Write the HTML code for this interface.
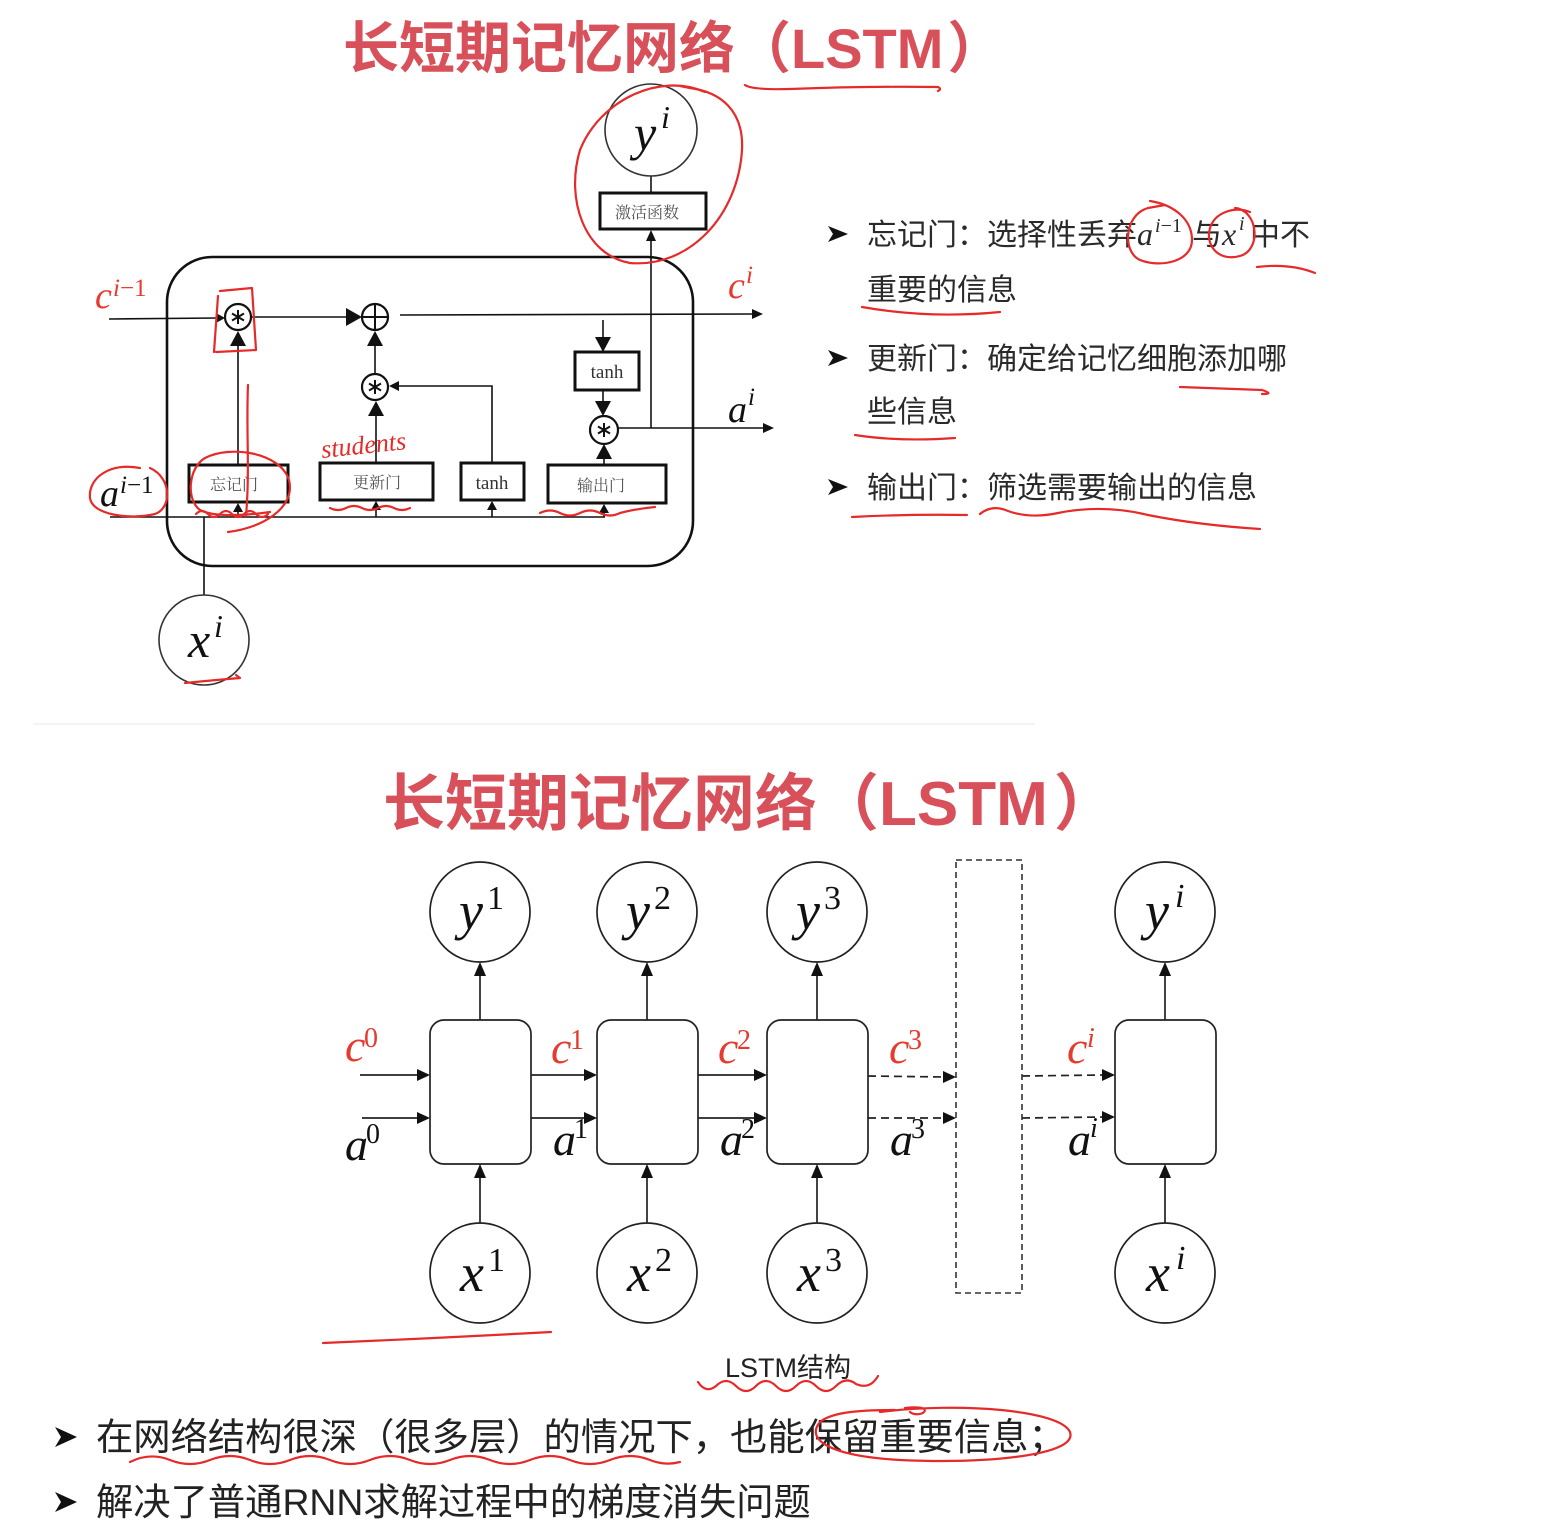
<!DOCTYPE html>
<html><head><meta charset="utf-8"><style>
html,body{margin:0;padding:0;background:#fff;}
svg{display:block;}
.cjk{font-family:"Liberation Sans","Noto Sans CJK SC",sans-serif;}
.m{font-family:"Liberation Serif",serif;font-style:italic;}
.s{font-family:"Liberation Serif",serif;}
.box{font-family:"Liberation Serif","Noto Serif CJK SC",serif;fill:#555;}
.red{stroke:#e62a2a;stroke-width:2.2;fill:none;stroke-linecap:round;stroke-linejoin:round;}
.ln{stroke:#111;stroke-width:1.6;fill:none;}
.th{stroke:#111;stroke-width:3;fill:#fff;}
</style></head><body>
<svg width="1552" height="1538" viewBox="0 0 1552 1538" xmlns="http://www.w3.org/2000/svg">
<rect width="1552" height="1538" fill="#fff"/>

<!-- ===== Top title ===== -->
<text x="343" y="68" class="cjk" font-size="56" font-weight="bold" fill="#d8505a">长短期记忆网络（LSTM<tspan dx="4">）</tspan></text>
<path class="red" d="M745 85 Q752 90 790 89 Q870 86 938 87 Q942 89 938 91"/>

<!-- ===== Top LSTM cell ===== -->
<rect x="167" y="257" width="526" height="309" rx="45" fill="none" stroke="#111" stroke-width="2.6"/>

<line class="ln" x1="109" y1="319" x2="218" y2="318"/>
<polygon points="225,318 216,313 216,323" fill="#111"/>
<circle cx="238" cy="317" r="13" fill="#fff" stroke="#111" stroke-width="2.2"/>
<path d="M238 310 L238 324 M232 313.5 L244 320.5 M232 320.5 L244 313.5" stroke="#111" stroke-width="2"/>
<line class="ln" x1="252" y1="317" x2="348" y2="317" stroke-width="2"/>
<polygon points="362,317 346,308 346,326" fill="#111"/>
<circle cx="375" cy="317" r="13" fill="#fff" stroke="#111" stroke-width="2.2"/>
<path d="M362 317 L388 317 M375 304 L375 330" stroke="#111" stroke-width="2"/>
<line class="ln" x1="400" y1="315" x2="755" y2="314"/>
<polygon points="763,314 752,309 752,319" fill="#111"/>

<line class="ln" x1="238" y1="465" x2="238" y2="340" stroke-width="2"/>
<polygon points="238,331 230,346 246,346" fill="#111"/>
<circle cx="375" cy="387" r="13" fill="#fff" stroke="#111" stroke-width="2.2"/>
<path d="M375 380 L375 394 M369 383.5 L381 390.5 M369 390.5 L381 383.5" stroke="#111" stroke-width="2"/>
<line class="ln" x1="375" y1="374" x2="375" y2="345" stroke-width="2"/>
<polygon points="375,331 367,346 383,346" fill="#111"/>
<line class="ln" x1="376" y1="463" x2="376" y2="412" stroke-width="2"/>
<polygon points="376,401 368,416 384,416" fill="#111"/>
<polyline class="ln" points="492,463 492,386 397,386"/>
<polygon points="389,386 399,381 399,391" fill="#111"/>

<line class="ln" x1="603" y1="320" x2="603" y2="340" stroke-width="2"/>
<polygon points="603,352 595,337 611,337" fill="#111"/>
<rect class="th" x="575" y="352" width="64" height="38"/>
<text x="607" y="378" class="s" font-size="19" fill="#333" text-anchor="middle">tanh</text>
<line class="ln" x1="603" y1="390" x2="603" y2="405" stroke-width="2"/>
<polygon points="603,416 595,401 611,401" fill="#111"/>
<circle cx="604" cy="430" r="14" fill="#fff" stroke="#111" stroke-width="2.2"/>
<path d="M604 423 L604 437 M598 426.5 L610 433.5 M598 433.5 L610 426.5" stroke="#111" stroke-width="2"/>
<line class="ln" x1="604" y1="465" x2="604" y2="455" stroke-width="2"/>
<polygon points="604,444 596,459 612,459" fill="#111"/>
<line class="ln" x1="618" y1="428" x2="765" y2="428"/>
<polygon points="774,428 763,423 763,433" fill="#111"/>
<line class="ln" x1="651" y1="428" x2="651" y2="238"/>
<polygon points="651,230 646,241 656,241" fill="#111"/>
<rect class="th" x="600" y="193" width="106" height="36"/>
<text x="647" y="218" class="box" font-size="16" text-anchor="middle">激活函数</text>
<line class="ln" x1="651" y1="193" x2="651" y2="176" stroke="#333"/>
<circle cx="651" cy="130" r="46" fill="#fff" stroke="#333" stroke-width="1.6"/>
<text x="634" y="150" class="m" font-size="50" fill="#111">y</text>
<text x="661" y="128" class="m" font-size="32" fill="#111">i</text>

<rect class="th" x="189" y="465" width="99" height="37"/>
<text x="234" y="490" class="box" font-size="16" text-anchor="middle">忘记门</text>
<rect class="th" x="320" y="463" width="113" height="37"/>
<text x="377" y="488" class="box" font-size="16" text-anchor="middle">更新门</text>
<rect class="th" x="461" y="463" width="63" height="37"/>
<text x="492" y="489" class="s" font-size="19" fill="#333" text-anchor="middle">tanh</text>
<rect class="th" x="548" y="465" width="118" height="38"/>
<text x="601" y="491" class="box" font-size="16" text-anchor="middle">输出门</text>

<line class="ln" x1="110" y1="517" x2="605" y2="517"/>
<line class="ln" x1="238" y1="517" x2="238" y2="510"/><polygon points="238,503 233,512 243,512" fill="#111"/>
<line class="ln" x1="376" y1="517" x2="376" y2="508"/><polygon points="376,501 371,510 381,510" fill="#111"/>
<line class="ln" x1="492" y1="517" x2="492" y2="508"/><polygon points="492,501 487,510 497,510" fill="#111"/>
<line class="ln" x1="604" y1="517" x2="604" y2="510"/><polygon points="604,504 599,513 609,513" fill="#111"/>
<line class="ln" x1="204" y1="517" x2="204" y2="595"/>
<circle cx="204" cy="640" r="45" fill="#fff" stroke="#333" stroke-width="1.6"/>
<text x="188" y="657" class="m" font-size="50" fill="#111">x</text>
<text x="214" y="637" class="m" font-size="32" fill="#111">i</text>

<text x="95" y="308" class="m" font-size="38" fill="#e63a2e">c</text>
<text x="113" y="296" class="s" font-size="25" fill="#e63a2e"><tspan font-style="italic">i</tspan>−1</text>
<text x="100" y="506" class="m" font-size="38" fill="#111">a</text>
<text x="120" y="493" class="s" font-size="25" fill="#111"><tspan font-style="italic">i</tspan>−1</text>
<text x="728" y="298" class="m" font-size="38" fill="#e63a2e">c</text>
<text x="746" y="283" class="m" font-size="25" fill="#e63a2e">i</text>
<text x="728" y="422" class="m" font-size="38" fill="#111">a</text>
<text x="748" y="405" class="m" font-size="25" fill="#111">i</text>

<path class="red" d="M705 92 C660 72 600 100 580 150 C565 200 585 255 630 263 C690 268 738 215 742 150 C744 110 720 92 690 88 L680 86"/>
<path class="red" d="M218 296 L214 352 M220 291 L252 288 L256 350 L216 352"/>
<path class="red" d="M248 385 C246 430 250 470 246 516"/>
<path class="red" d="M140 468 C110 462 88 478 90 498 C92 515 130 520 155 514 C172 508 172 478 150 468"/>
<path class="red" d="M205 458 C230 445 280 452 289 480 C296 508 262 528 228 532 M205 458 C188 468 186 500 200 510 C215 518 250 515 270 512"/>
<text x="322" y="458" class="m" font-size="26" fill="#e62a2a" transform="rotate(-6 322 458)">students</text>
<path class="red" d="M196 514 q6 -6 12 0 t12 0 t12 0 t12 0 t12 0 t12 0"/>
<path class="red" d="M330 508 q8 4 16 0 t16 0 t16 0 t16 0 t16 0"/>
<path class="red" d="M540 513 q10 -5 20 0 t20 0 t20 0 t20 0 q15 -4 35 -6"/>
<path class="red" d="M185 683 Q215 680 240 678 L236 675"/>

<!-- ===== right bullet list ===== -->
<g fill="#111">
<polygon points="828,226 848,234 828,242 833,234"/>
<polygon points="828,350 848,358 828,366 833,358"/>
<polygon points="828,479 848,487 828,495 833,487"/>
</g>
<g class="cjk" font-size="30" fill="#2a2a2a">
<text x="867" y="245">忘记门：选择性丢弃</text>
<text x="1192" y="245">与</text>
<text x="1250" y="245">中不</text>
<text x="867" y="300">重要的信息</text>
<text x="867" y="369">更新门：确定给记忆细胞添加哪</text>
<text x="867" y="422">些信息</text>
<text x="867" y="498">输出门：筛选需要输出的信息</text>
</g>
<text x="1137" y="245" class="m" font-size="32" fill="#2a2a2a">a</text>
<text x="1155" y="232" class="s" font-size="20" fill="#2a2a2a"><tspan font-style="italic">i</tspan>−1</text>
<text x="1222" y="245" class="m" font-size="32" fill="#2a2a2a">x</text>
<text x="1239" y="230" class="m" font-size="20" fill="#2a2a2a">i</text>
<path class="red" d="M1150 201 C1175 205 1192 220 1192 240 C1192 262 1160 268 1140 260 C1122 252 1124 215 1148 208 L1165 205"/>
<path class="red" d="M1235 208 C1258 210 1262 250 1240 256 C1218 262 1205 245 1210 228 C1215 212 1235 206 1250 212"/>
<path class="red" d="M1257 267 Q1290 263 1315 273"/>
<path class="red" d="M862 307 Q930 319 1000 312"/>
<path class="red" d="M1180 387 L1262 390 Q1275 394 1262 394"/>
<path class="red" d="M855 435 Q900 442 955 438"/>
<path class="red" d="M852 517 Q910 514 967 515"/>
<path class="red" d="M980 514 q12 -10 28 -3 q22 8 50 2 q45 -9 90 2 q50 10 112 14"/>

<line x1="33" y1="724" x2="1035" y2="724" stroke="#e8e8e8" stroke-width="1"/>

<!-- ===== Bottom title ===== -->
<text x="383" y="825" class="cjk" font-size="62" font-weight="bold" fill="#d8505a">长短期记忆网络（LSTM<tspan dx="6">）</tspan></text>

<!-- ===== Bottom diagram ===== -->
<g stroke="#222" stroke-width="1.7" fill="#fff">
<circle cx="480" cy="912" r="50"/><circle cx="647" cy="912" r="50"/><circle cx="817" cy="912" r="50"/><circle cx="1165" cy="912" r="50"/>
<circle cx="480" cy="1273" r="50"/><circle cx="647" cy="1273" r="50"/><circle cx="817" cy="1273" r="50"/><circle cx="1165" cy="1273" r="50"/>
<rect x="430" y="1020" width="101" height="144" rx="14"/>
<rect x="597" y="1020" width="101" height="144" rx="14"/>
<rect x="767" y="1020" width="101" height="144" rx="14"/>
<rect x="1115" y="1020" width="101" height="144" rx="14"/>
</g>
<g stroke="#222" stroke-width="1.7">
<line x1="480" y1="1020" x2="480" y2="975"/><line x1="647" y1="1020" x2="647" y2="975"/><line x1="817" y1="1020" x2="817" y2="975"/><line x1="1165" y1="1020" x2="1165" y2="975"/>
<line x1="480" y1="1223" x2="480" y2="1177"/><line x1="647" y1="1223" x2="647" y2="1177"/><line x1="817" y1="1223" x2="817" y2="1177"/><line x1="1165" y1="1223" x2="1165" y2="1177"/>
<line x1="360" y1="1075" x2="419" y2="1075"/><line x1="362" y1="1118" x2="419" y2="1118"/>
<line x1="531" y1="1075" x2="586" y2="1075"/><line x1="531" y1="1118" x2="586" y2="1118"/>
<line x1="698" y1="1075" x2="756" y2="1075"/><line x1="698" y1="1118" x2="756" y2="1118"/>
</g>
<g stroke="#222" stroke-width="1.7" stroke-dasharray="8 5">
<line x1="868" y1="1076" x2="945" y2="1077"/><line x1="868" y1="1118" x2="945" y2="1118"/>
<line x1="1022" y1="1076" x2="1104" y2="1075"/><line x1="1022" y1="1118" x2="1104" y2="1117"/>
</g>
<rect x="956" y="860" width="66" height="433" fill="none" stroke="#333" stroke-width="1.6" stroke-dasharray="6 4"/>
<g fill="#111">
<polygon points="480,962 474,976 486,976"/><polygon points="647,962 641,976 653,976"/><polygon points="817,962 811,976 823,976"/><polygon points="1165,962 1159,976 1171,976"/>
<polygon points="480,1164 474,1178 486,1178"/><polygon points="647,1164 641,1178 653,1178"/><polygon points="817,1164 811,1178 823,1178"/><polygon points="1165,1164 1159,1178 1171,1178"/>
<polygon points="430,1075 417,1069 417,1081"/><polygon points="430,1118 417,1112 417,1124"/>
<polygon points="597,1075 584,1069 584,1081"/><polygon points="597,1118 584,1112 584,1124"/>
<polygon points="767,1075 754,1069 754,1081"/><polygon points="767,1118 754,1112 754,1124"/>
<polygon points="956,1077 943,1071 943,1083"/><polygon points="956,1118 943,1112 943,1124"/>
<polygon points="1115,1075 1102,1069 1102,1081"/><polygon points="1115,1117 1102,1111 1102,1123"/>
</g>

<g fill="#111">
<text x="459" y="929" class="m" font-size="54">y</text><text x="487" y="909" class="s" font-size="34">1</text>
<text x="626" y="929" class="m" font-size="54">y</text><text x="654" y="909" class="s" font-size="34">2</text>
<text x="796" y="929" class="m" font-size="54">y</text><text x="824" y="909" class="s" font-size="34">3</text>
<text x="1145" y="929" class="m" font-size="54">y</text><text x="1175" y="907" class="m" font-size="34">i</text>
<text x="460" y="1291" class="m" font-size="54">x</text><text x="488" y="1271" class="s" font-size="34">1</text>
<text x="627" y="1291" class="m" font-size="54">x</text><text x="655" y="1271" class="s" font-size="34">2</text>
<text x="797" y="1291" class="m" font-size="54">x</text><text x="825" y="1271" class="s" font-size="34">3</text>
<text x="1146" y="1291" class="m" font-size="54">x</text><text x="1176" y="1269" class="m" font-size="34">i</text>
</g>
<g fill="#e63a2e">
<text x="345" y="1061" class="m" font-size="46">c</text><text x="364" y="1047" class="s" font-size="28">0</text>
<text x="551" y="1063" class="m" font-size="46">c</text><text x="570" y="1049" class="s" font-size="28">1</text>
<text x="718" y="1063" class="m" font-size="46">c</text><text x="737" y="1049" class="s" font-size="28">2</text>
<text x="889" y="1063" class="m" font-size="46">c</text><text x="908" y="1049" class="s" font-size="28">3</text>
<text x="1067" y="1063" class="m" font-size="46">c</text><text x="1087" y="1047" class="m" font-size="28">i</text>
</g>
<g fill="#111">
<text x="345" y="1160" class="m" font-size="46">a</text><text x="366" y="1143" class="s" font-size="28">0</text>
<text x="553" y="1155" class="m" font-size="46">a</text><text x="574" y="1138" class="s" font-size="28">1</text>
<text x="720" y="1155" class="m" font-size="46">a</text><text x="741" y="1138" class="s" font-size="28">2</text>
<text x="890" y="1155" class="m" font-size="46">a</text><text x="911" y="1138" class="s" font-size="28">3</text>
<text x="1068" y="1155" class="m" font-size="46">a</text><text x="1090" y="1137" class="m" font-size="28">i</text>
</g>

<text x="725" y="1377" class="cjk" font-size="27" fill="#222">LSTM结构</text>
<path class="red" d="M323 1343 Q440 1338 551 1332"/>
<path class="red" d="M698 1382 q8 12 18 4 q10 -10 20 0 q10 10 20 0 q10 -10 20 0 q10 10 20 0 q10 -10 20 0 q10 10 20 0 q10 -10 20 -2 q14 6 22 -8"/>

<g fill="#111">
<polygon points="55,1427 77,1437 55,1447 61,1437"/>
<polygon points="55,1492 77,1502 55,1512 61,1502"/>
</g>
<g class="cjk" font-size="37.3" fill="#222">
<text x="96" y="1450">在网络结构很深（很多层）的情况下，也能保留重要信息；</text>
<text x="96" y="1515">解决了普通RNN求解过程中的梯度消失问题</text>
</g>
<path class="red" d="M130 1462 q20 -10 40 -2 q20 8 40 0 q20 -8 40 0 q20 8 40 0 q20 -8 40 0 q20 8 40 0 q20 -8 40 0 q20 8 40 0 q20 -8 40 0 q20 8 40 0 q20 -8 40 0 q20 8 40 0 q20 -8 40 0 q15 6 30 2"/>
<path class="red" d="M905 1408 C940 1404 920 1420 910 1412 M880 1412 C960 1402 1060 1410 1070 1432 C1078 1455 990 1464 900 1460 C830 1456 805 1440 820 1422 C832 1412 860 1410 895 1410"/>
</svg>
</body></html>
